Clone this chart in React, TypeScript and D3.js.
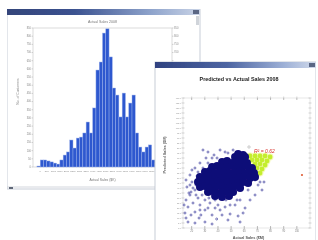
import React from "react";
import * as d3 from "d3";

const W = 318;
const H = 240;

// ---- histogram: Actual Sales 2008 ----
const histBins = [
  "0", "250", "500", "750", "1000", "1250", "1500", "1750", "2000", "2250",
  "2500", "2750", "3000", "3250", "3500", "3750", "4000", "4250", "4500", "4750",
  "5000", "5250", "5500", "5750", "6000", "6250", "6500", "6750", "7000", "7250",
  "7500", "7750", "8000", "8250", "8500", "8750", "9000", "9250", "9500", "9750",
];
const histCounts = [
  6, 43, 43, 37, 31, 24, 18, 43, 73, 92,
  165, 116, 177, 183, 208, 275, 208, 361, 593, 642,
  819, 845, 673, 483, 440, 306, 452, 306, 391, 440,
  208, 122, 92, 122, 135, 43, 24, 18, 12, 6,
];
const histYTicks = [0, 50, 100, 150, 200, 250, 300, 350, 400, 450, 500, 550, 600, 650, 700, 750, 800, 850];

// ---- scatter: Predicted vs Actual Sales 2008 ----
const scatterXTicks = [20, 30, 40, 50, 60, 70, 80, 90, 100];
const scatterYTicks = [0, 5, 10, 15, 20, 25, 30, 35, 40, 45, 50, 55, 60, 65, 70, 75, 80, 85, 90, 95, 100, 105, 110, 115, 120, 125, 130];

// dense core of the cloud [actual, predicted]
const corePoints = [
  [55.3, 74], [59.1, 73],
  [53.0, 71], [56.8, 70], [60.6, 71],
  [43.1, 66], [46.9, 67], [50.7, 65], [54.5, 66], [58.3, 67], [62.1, 65],
  [35.5, 61], [39.3, 62], [43.1, 60], [46.9, 61], [50.7, 62], [54.5, 60], [58.3, 61], [62.1, 62], [65.9, 60],
  [30.1, 56], [33.9, 57], [37.8, 55], [41.6, 56], [45.4, 57], [49.2, 55], [53.0, 56], [56.8, 57], [60.6, 55], [64.4, 56], [67.4, 55],
  [26.3, 51], [30.1, 50], [33.9, 52], [37.8, 51], [41.6, 50], [45.4, 51], [49.2, 52], [53.0, 50], [56.8, 51], [60.6, 52], [64.4, 50], [68.2, 51],
  [24.8, 46], [28.6, 47], [32.4, 45], [36.2, 46], [40.0, 47], [43.8, 45], [47.6, 46], [51.5, 47], [55.3, 45], [59.1, 46], [62.9, 45],
  [26.3, 41], [30.1, 42], [33.9, 40], [37.8, 41], [41.6, 42], [45.4, 40], [49.2, 41], [53.0, 42], [56.8, 40],
  [32.4, 36], [36.2, 37], [40.0, 35], [43.8, 36], [47.6, 37], [51.5, 36],
  [37.8, 32], [43.1, 31], [48.4, 32],
];

// sparse points around the cloud
const fringePoints = [
  [32.4, 76], [35.5, 70], [28.6, 78], [41.6, 78], [26.3, 65], [22.5, 60], [18.7, 53],
  [15.7, 48], [20.2, 46], [16.4, 41], [22.5, 38], [18.7, 33], [24.8, 30], [15.7, 28],
  [21.0, 25], [26.3, 23], [17.2, 21], [30.1, 18], [22.5, 16], [14.9, 15], [35.5, 13],
  [43.1, 13], [49.2, 14], [55.3, 12], [59.1, 15], [17.2, 6], [22.5, 5], [30.1, 6],
  [35.5, 4], [15.7, 10], [64.4, 28], [68.2, 33], [73.5, 38], [62.9, 38], [56.8, 28],
  [49.2, 23], [40.0, 23], [60.6, 20], [24.1, 52], [27.9, 33], [37.8, 28], [46.1, 28],
  [23.3, 43], [20.2, 58], [30.9, 70], [45.4, 76], [70.5, 43], [75.0, 46], [33.1, 30],
  [19.5, 36], [27.0, 13], [39.0, 9],
  [21.0, 40], [18.7, 43], [23.3, 33], [30.1, 28], [33.9, 25], [26.3, 18], [32.4, 20],
  [37.8, 20], [41.6, 18], [45.4, 21], [53.0, 23], [54.5, 28], [64.4, 43], [68.2, 48],
  [72.0, 46], [37.0, 73], [39.3, 70], [47.6, 75], [51.5, 78], [24.8, 56], [28.6, 60],
  [32.4, 65], [17.9, 35], [14.2, 23], [19.5, 13], [25.6, 10], [47.6, 8], [56.8, 6],
];

// high-value band highlighted in yellow-green
const fitPoints = [
  [64.4, 72], [68.2, 72], [72.0, 72], [75.8, 72], [79.6, 71],
  [65.9, 68], [69.7, 68], [73.5, 68], [77.3, 67],
  [68.2, 64], [72.0, 64], [75.8, 63],
  [69.7, 60], [73.5, 59],
  [72.0, 55],
];

const outlierPoint = [103.9, 53];
const markerPoint = [63.6, 81];
const fitLabel = "R² = 0.62";
const fitLabelAt = [67.4, 75];

const font = "Liberation Sans, Arial, sans-serif";

// second window starts here and hides what lies under it
const win2 = { x: 155, y: 62 };

const TitleBar = ({ x, y, w, id }: { x: number; y: number; w: number; id: string }) => (
  <g>
    <rect x={x} y={y} width={w} height={6} fill={`url(#${id})`} />
    <rect x={x + w - 7} y={y + 1} width={6} height={4} fill="#5a6684" />
  </g>
);

const Histogram = () => {
  const left = 33, right = 172, top = 28, bottom = 167;
  const x = d3.scaleBand<string>().domain(histBins).range([left, right]).paddingInner(0).paddingOuter(1.2);
  const y = d3.scaleLinear().domain([0, 850]).range([bottom, top]);
  return (
    <g>
      <rect x={7} y={9} width={193} height={180} fill="#fff" stroke="#b9c0cc" strokeWidth={0.8} />
      <TitleBar x={7} y={9} w={193} id="tb1" />
      <rect x={196} y={16} width={3} height={9} fill="#d0d4da" />
      <line x1={7} x2={200} y1={187} y2={187} stroke="#c8ccd4" strokeWidth={0.8} />
      <rect x={9} y={187} width={4} height={2} fill="#606878" />
      <text x={(left + right) / 2} y={23} fontSize={3.6} fill="#777" textAnchor="middle" fontFamily={font}>
        Actual Sales 2008
      </text>
      <rect x={left} y={top} width={right - left} height={bottom - top} fill="none" stroke="#c4c4c4" strokeWidth={0.6} />
      {histYTicks.map((t) => (
        <g key={t}>
          <line x1={left - 1.5} x2={left} y1={y(t)} y2={y(t)} stroke="#999" strokeWidth={0.4} />
          <line x1={right} x2={right + 1.5} y1={y(t)} y2={y(t)} stroke="#999" strokeWidth={0.4} />
          <text x={left - 2} y={y(t) + 0.9} fontSize={2.6} fill="#888" textAnchor="end" fontFamily={font}>{t}</text>
          {y(t) < win2.y - 2 ? (
            <text x={right + 2} y={y(t) + 0.9} fontSize={2.6} fill="#888" fontFamily={font}>{t}</text>
          ) : null}
        </g>
      ))}
      {histBins.map((b, i) => (
        <rect
          key={b}
          x={x(b)}
          y={y(histCounts[i])}
          width={x.bandwidth()}
          height={bottom - y(histCounts[i])}
          fill="#2e58cf"
          stroke="#9db2ea"
          strokeWidth={0.45}
        />
      ))}
      {histBins.map((b, i) =>
        i % 2 === 0 && (x(b) ?? 0) + x.bandwidth() < win2.x - 3 ? (
          <text key={b} x={(x(b) ?? 0) + x.bandwidth()} y={172} fontSize={2.4} fill="#888" textAnchor="middle" fontFamily={font}>
            {b}
          </text>
        ) : null
      )}
      <text x={(left + right) / 2} y={181} fontSize={3.4} fill="#777" textAnchor="middle" fontFamily={font}>
        Actual Sales ($K)
      </text>
      <text
        transform={`translate(19,${(top + bottom) / 2 - 6}) rotate(-90)`}
        fontSize={3.4}
        fill="#888"
        textAnchor="middle"
        fontFamily={font}
      >
        No. of Customers
      </text>
    </g>
  );
};

const Scatter = () => {
  const left = 183, right = 310, top = 98, bottom = 228;
  const x = d3.scaleLinear().domain([13.4, 110]).range([left, right]);
  const y = d3.scaleLinear().domain([0, 130]).range([bottom, top]);
  return (
    <g>
      <rect x={win2.x} y={win2.y} width={161} height={190} fill="#fff" stroke="#b9c0cc" strokeWidth={0.8} />
      <TitleBar x={win2.x} y={win2.y} w={161} id="tb2" />
      <text x={239} y={81} fontSize={5.4} fontWeight="bold" fill="#222" textAnchor="middle" fontFamily={font}>
        Predicted vs Actual Sales 2008
      </text>
      <rect x={left} y={top} width={right - left} height={bottom - top} fill="none" stroke="#cfcfcf" strokeWidth={0.5} />
      {scatterXTicks.map((t) => (
        <g key={t}>
          <line x1={x(t)} x2={x(t)} y1={top} y2={top + 2} stroke="#777" strokeWidth={0.5} />
          <line x1={x(t)} x2={x(t)} y1={top - 1.5} y2={top} stroke="#999" strokeWidth={0.4} />
          <line x1={x(t)} x2={x(t)} y1={bottom - 2} y2={bottom + 1.5} stroke="#777" strokeWidth={0.5} />
          <text x={x(t)} y={bottom + 4.4} fontSize={2.6} fill="#888" textAnchor="middle" fontFamily={font}>{t}</text>
        </g>
      ))}
      {scatterYTicks.map((t) => (
        <g key={t}>
          <line x1={left - 1.5} x2={left + 1.5} y1={y(t)} y2={y(t)} stroke="#999" strokeWidth={0.4} />
          <line x1={right - 1.5} x2={right + 1.5} y1={y(t)} y2={y(t)} stroke="#999" strokeWidth={0.4} />
          <text x={left - 2} y={y(t) + 0.8} fontSize={2.1} fill="#999" textAnchor="end" fontFamily={font}>{t}.0</text>
        </g>
      ))}
      {fitPoints.map((p, i) => (
        <circle key={`f${i}`} cx={x(p[0])} cy={y(p[1])} r={3.4} fill="#f2f9b0" />
      ))}
      {fitPoints.map((p, i) => (
        <circle key={`g${i}`} cx={x(p[0])} cy={y(p[1])} r={2.4} fill="#c4ee2e" />
      ))}
      {fringePoints.map((p, i) => (
        <circle key={`s${i}`} cx={x(p[0])} cy={y(p[1])} r={1} fill="none" stroke="#22228e" strokeWidth={0.6} />
      ))}
      {corePoints.map((p, i) => (
        <circle key={`c${i}`} cx={x(p[0])} cy={y(p[1])} r={4} fill="#100c78" />
      ))}
      <circle cx={x(markerPoint[0])} cy={y(markerPoint[1])} r={1.2} fill="none" stroke="#999" strokeWidth={0.5} />
      <circle cx={x(outlierPoint[0])} cy={y(outlierPoint[1])} r={1.1} fill="#e0603a" />
      <text x={x(fitLabelAt[0])} y={y(fitLabelAt[1])} fontSize={5} fontStyle="italic" fill="#d8302a" fontFamily={font}>
        {fitLabel}
      </text>
      <text
        transform={`translate(166,${(top + bottom) / 2 - 8}) rotate(-90)`}
        fontSize={3.8}
        fontWeight="bold"
        fill="#666"
        textAnchor="middle"
        fontFamily={font}
      >
        Predicted Sales ($M)
      </text>
      <text x={(left + right) / 2 + 2} y={238.6} fontSize={3.8} fontWeight="bold" fill="#555" textAnchor="middle" fontFamily={font}>
        Actual Sales ($M)
      </text>
    </g>
  );
};

export default function App() {
  return (
    <svg
      width={W}
      height={H}
      viewBox={`0 0 ${W} ${H}`}
      style={{ position: "absolute", left: 0, top: 0, background: "#fff" }}
    >
      <defs>
        <linearGradient id="tb1" x1="0" x2="1" y1="0" y2="0">
          <stop offset="0" stopColor="#34457a" />
          <stop offset="0.35" stopColor="#3b5290" />
          <stop offset="0.75" stopColor="#8fa4cc" />
          <stop offset="1" stopColor="#c9d3e6" />
        </linearGradient>
        <linearGradient id="tb2" x1="0" x2="1" y1="0" y2="0">
          <stop offset="0" stopColor="#2f4280" />
          <stop offset="0.45" stopColor="#4d65a2" />
          <stop offset="0.8" stopColor="#9db0d6" />
          <stop offset="1" stopColor="#d0d9ea" />
        </linearGradient>
        <filter id="soft" x="0" y="0" width="1" height="1">
          <feGaussianBlur stdDeviation="0.35" />
        </filter>
      </defs>
      <rect width={W} height={H} fill="#fff" />
      <g filter="url(#soft)">
        <Histogram />
        <Scatter />
      </g>
    </svg>
  );
}
